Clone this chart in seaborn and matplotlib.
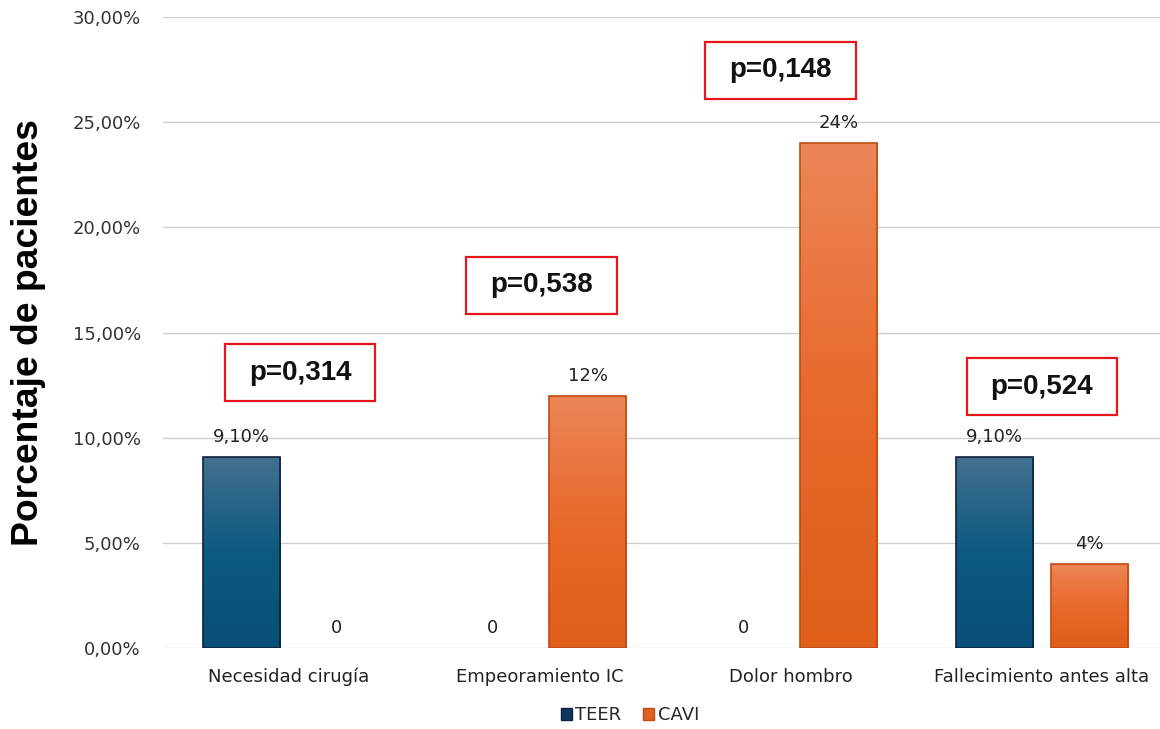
import numpy as np
import pandas as pd
import matplotlib
matplotlib.use("Agg")
import matplotlib.pyplot as plt
import seaborn as sns
from matplotlib.patches import Rectangle, Patch
from matplotlib.colors import LinearSegmentedColormap
from matplotlib.ticker import FuncFormatter

# --- data ---
categories = ["Necesidad cirugía", "Empeoramiento IC", "Dolor hombro", "Fallecimiento antes alta"]
groups = ["TEER", "CAVI"]
teer_values = [9.1, 0, 0, 9.1]
cavi_values = [0, 12, 24, 4]
teer_labels = ["9,10%", "0", "0", "9,10%"]
cavi_labels = ["0", "12%", "24%", "4%"]
p_values = ["p=0,314", "p=0,538", "p=0,148", "p=0,524"]
# centre (x, y) of each p-value box, in data units
p_box_centers = [(0.044, 13.08), (1.006, 17.24), (1.958, 27.46), (3.0, 12.43)]

df = pd.DataFrame({
    "categoria": categories * 2,
    "grupo": ["TEER"] * 4 + ["CAVI"] * 4,
    "valor": teer_values + cavi_values,
})

sns.set_theme(style="white")
plt.rcParams["font.family"] = ["DejaVu Sans"]
BOLD = ["Liberation Sans", "DejaVu Sans"]

fig = plt.figure(figsize=(11.6, 7.29), dpi=100)
ax = fig.add_axes([0.1405, 0.111, 0.8595, 0.8656])

palette = {"TEER": "#0b5a82", "CAVI": "#e8682a"}
sns.barplot(data=df, x="categoria", y="valor", hue="grupo", order=categories,
            hue_order=groups, palette=palette, width=0.76, gap=0.19,
            ax=ax, legend=False, saturation=1)

grad = {
    "TEER": LinearSegmentedColormap.from_list("teer", ["#0a5078", "#0c5a80", "#44708f"]),
    "CAVI": LinearSegmentedColormap.from_list("cavi", ["#de5e1a", "#e8692c", "#ec8658"]),
}
edges = {"TEER": "#0b2340", "CAVI": "#c04a12"}

ax.set_xlim(-0.502, 3.47)
ax.set_ylim(0, 30)

gradient = np.linspace(0, 1, 256).reshape(-1, 1)
for container, grp, labels in zip(ax.containers, groups, [teer_labels, cavi_labels]):
    for bar, lab in zip(container, labels):
        x0 = bar.get_x()
        w = bar.get_width()
        h = bar.get_height()
        if h > 0:
            bar.set_facecolor("none")
            bar.set_edgecolor(edges[grp])
            bar.set_linewidth(1.2)
            im = ax.imshow(gradient, cmap=grad[grp], origin="lower", aspect="auto",
                           extent=[x0, x0 + w, 0, h], zorder=bar.get_zorder() - 0.1)
            im.set_clip_path(bar)
        else:
            bar.set_linewidth(0)
        ax.annotate(lab, (x0 + w / 2, h), xytext=(0, 8), textcoords="offset points",
                    ha="center", va="bottom", fontsize=13, color="#222222")

ax.set_xlim(-0.502, 3.47)
ax.set_ylim(0, 30)

# p-value boxes
box_w, box_h = 0.598, 2.71
for txt, (cx, cy) in zip(p_values, p_box_centers):
    ax.add_patch(Rectangle((cx - box_w / 2, cy - box_h / 2), box_w, box_h, fill=False,
                           edgecolor="#e8161b", linewidth=1.6, zorder=5, clip_on=False))
    ax.text(cx, cy, txt, ha="center", va="center", fontsize=20, fontweight="bold",
            color="#111111", zorder=6, family=BOLD)

ax.set_yticks(np.arange(0, 31, 5))
ax.yaxis.set_major_formatter(FuncFormatter(lambda v, _: f"{v:.2f}".replace(".", ",") + "%"))
ax.grid(axis="y", color="#cfcfcf", linewidth=1)
ax.set_axisbelow(True)
for s in ax.spines.values():
    s.set_visible(False)
ax.tick_params(axis="y", labelsize=13, labelcolor="#333333", pad=16, length=0)
ax.tick_params(axis="x", labelsize=13, labelcolor="#222222", pad=14, length=0)
ax.set_xlabel("")
ax.set_ylabel("Porcentaje de pacientes", fontsize=26.8, fontweight="bold", family=BOLD,
              color="black")
ax.yaxis.set_label_coords(-0.117, 0.5)

handles = [Patch(facecolor="#0b3a5e", edgecolor="#0b2340", label="TEER"),
           Patch(facecolor="#e06020", edgecolor="#c04a12", label="CAVI")]
fig.legend(handles=handles, loc="center", bbox_to_anchor=(0.543, 0.019), ncol=2,
           frameon=False, fontsize=13, handlelength=0.6, handleheight=0.6,
           handletextpad=0.2, columnspacing=1.2)

fig.savefig("out.png", dpi=100)
